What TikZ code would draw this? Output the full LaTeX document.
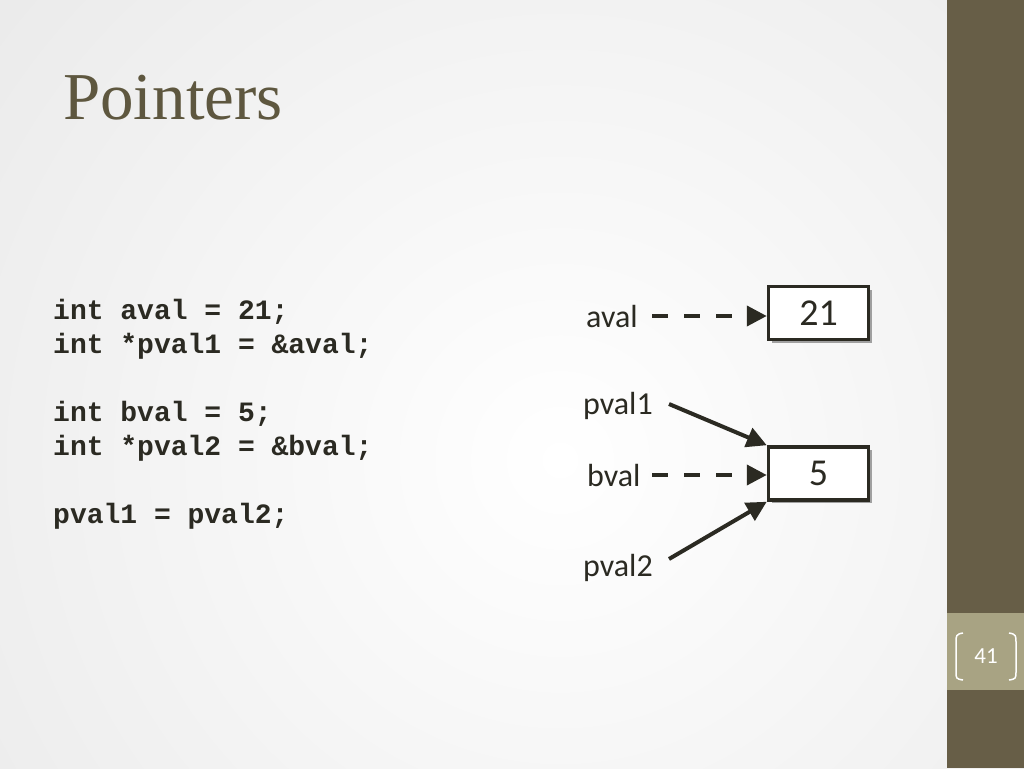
\documentclass[tikz,border=0pt]{standalone}
\usepackage{fontspec}
\setmainfont{Liberation Serif}
\newfontfamily\labelfont{Carlito}
\newfontfamily\codefont{Liberation Mono}
\usetikzlibrary{arrows.meta,shadows}
\definecolor{band}{HTML}{675E47}
\definecolor{bandlight}{HTML}{A8A383}
\definecolor{titlecol}{HTML}{5E573F}
\definecolor{ink}{HTML}{2B2A22}
\begin{document}
\begin{tikzpicture}[x=1pt,y=-1pt,
  valbox/.style={draw=ink,line width=3.5pt,fill=white,minimum width=100pt,minimum height=53pt,inner sep=0pt,
    font=\labelfont\fontsize{38}{42}\selectfont,text=ink,
    drop shadow={shadow xshift=3pt,shadow yshift=-3pt,opacity=0.35,fill=black}},
  lbl/.style={font=\labelfont\fontsize{32}{36}\selectfont,text=ink,inner sep=0pt,anchor=base west},
  ptr/.style={draw=ink,line width=4pt,-{Triangle[length=20pt,width=20pt]}},
  dashptr/.style={ptr,dash pattern=on 16pt off 16pt},
  codeline/.style={font=\codefont\bfseries\fontsize{28}{34}\selectfont,text=ink,inner sep=0pt,anchor=base west}]
\useasboundingbox (0,0) rectangle (1024,768);
\fill[black!9] (0,0) rectangle (1024,768);
\shade[inner color=white,outer color=black!9] (560,460) circle (820pt);
\fill[band] (947,0) rectangle (1024,768);
\fill[bandlight] (947,613) rectangle (1024,690);
% title
\node[font=\fontsize{67}{72}\selectfont,text=titlecol,anchor=base west,inner sep=0pt] (title) at (63,119) {Pointers};
% code
\node[codeline] (c1) at (53,319) {int aval = 21;};
\node[codeline] (c2) at (53,353) {int *pval1 = \&aval;};
\node[codeline] (c3) at (53,421) {int bval = 5;};
\node[codeline] (c4) at (53,455) {int *pval2 = \&bval;};
\node[codeline] (c5) at (53,523) {pval1 = pval2;};
% boxes
\node[valbox] (b21) at (818.5,313) {21};
\node[valbox] (b5) at (818.5,473.5) {5};
% labels
\node[lbl] (aval) at (586,327) {aval};
\node[lbl] (pval1) at (583,414) {pval1};
\node[lbl] (bval) at (587,486) {bval};
\node[lbl] (pval2) at (583,576) {pval2};
\coordinate (a0) at (652,316);
\coordinate (bv0) at (652,475);
\coordinate (p10) at (669,404);
\coordinate (p20) at (669,559);
\draw[dashptr] (a0) -- (b21.west |- a0);
\draw[dashptr] (bv0) -- (b5.west |- bv0);
\draw[ptr] (p10) -- (b5.north west);
\draw[ptr] (p20) -- (b5.south west);
% page number
\node[font=\labelfont\fontsize{23}{26}\selectfont,text=white,inner sep=0pt] (pg) at (986,656) {41};
\draw[white,line width=1.5pt] (963,633) .. controls (956,634) and (956,636) .. (956,642) -- (956,672) .. controls (956,678) and (956,679) .. (963,680);
\draw[white,line width=1.5pt] (1009,633) .. controls (1016,634) and (1016,636) .. (1016,642) -- (1016,672) .. controls (1016,678) and (1016,679) .. (1009,680);
\end{tikzpicture}
\end{document}
